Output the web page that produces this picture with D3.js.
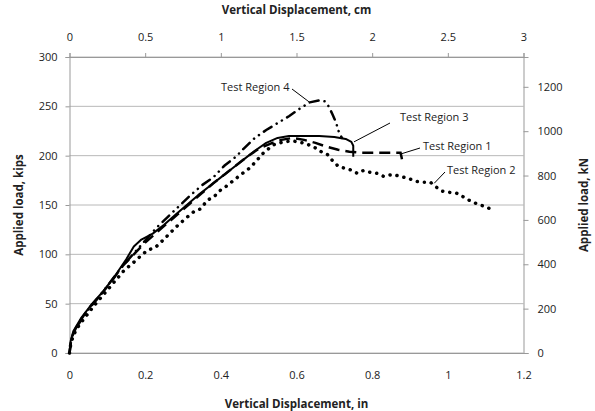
<!DOCTYPE html>
<html>
<head>
<meta charset="utf-8">
<script src="https://cdn.jsdelivr.net/npm/d3@7"></script>
<style>
  body { margin: 0; background: #fff; }
  text { font-family: "Open Sans", "Liberation Sans", sans-serif; fill: #222; }
  .tick text { font-size: 11px; }
  .axis-title { font-size: 11.5px; font-weight: bold; }
  .label { font-size: 11px; }
</style>
</head>
<body>
<div id="chart"></div>
<script>
// displacement (in), load (kips)
const region1 = [[0,0],[0.005,15],[0.02,28],[0.05,45],[0.08,58],[0.11,72],[0.14,88],[0.17,100],[0.2,112],[0.23,122],[0.26,132],[0.29,142],[0.32,152],[0.35,162],[0.38,172],[0.41,181],[0.44,190],[0.47,199],[0.5,207],[0.53,212],[0.56,216],[0.59,218],[0.62,216],[0.65,213],[0.68,209],[0.71,206],[0.74,204],[0.77,203],[0.82,203],[0.875,203],[0.878,198],[0.88,193]];
const region2 = [[0,0],[0.003,8],[0.01,18],[0.025,28],[0.045,38],[0.065,48],[0.085,57],[0.105,66],[0.125,75],[0.145,84],[0.17,92],[0.19,99],[0.206,104],[0.227,107],[0.249,115],[0.267,122],[0.288,130],[0.312,138],[0.328,143],[0.346,146],[0.365,155],[0.381,158],[0.399,165],[0.418,170],[0.434,175],[0.457,182],[0.478,188],[0.497,196],[0.513,203],[0.539,211],[0.566,214],[0.589,215],[0.616,213],[0.632,211],[0.655,207],[0.669,203],[0.682,201],[0.695,195],[0.711,189],[0.73,187],[0.748,185],[0.761,182],[0.777,185],[0.796,183],[0.814,182],[0.83,179],[0.854,181],[0.875,179],[0.896,177],[0.915,174],[0.936,173],[0.954,173],[0.97,168],[0.986,164],[1.0,163],[1.023,162],[1.042,158],[1.06,154],[1.078,151],[1.094,149],[1.113,146]];
const region3 = [[0,0],[0.003,12],[0.01,22],[0.03,35],[0.06,50],[0.09,63],[0.12,78],[0.15,95],[0.17,108],[0.19,115],[0.22,121],[0.25,130],[0.28,140],[0.31,150],[0.34,160],[0.37,169],[0.4,178],[0.43,187],[0.46,196],[0.49,205],[0.52,213],[0.55,218],[0.58,220],[0.62,220],[0.66,220],[0.7,219],[0.73,217],[0.745,214],[0.75,210],[0.75,199]];
const region4 = [[0,0],[0.005,14],[0.02,27],[0.05,44],[0.08,58],[0.11,73],[0.14,88],[0.17,101],[0.2,114],[0.23,127],[0.26,138],[0.29,149],[0.32,160],[0.35,170],[0.38,178],[0.41,190],[0.44,199],[0.46,207],[0.49,218],[0.52,226],[0.55,233],[0.58,240],[0.61,248],[0.635,254],[0.66,256],[0.675,255],[0.685,250],[0.695,242],[0.705,233],[0.712,224],[0.72,218]];

const inTicks = [0, 0.2, 0.4, 0.6, 0.8, 1, 1.2];
const cmTicks = [0, 0.5, 1, 1.5, 2, 2.5, 3];
const kipTicks = [0, 50, 100, 150, 200, 250, 300];
const kNTicks = [0, 200, 400, 600, 800, 1000, 1200];

const W = 595, H = 411;
const m = {left: 69.5, right: 71.5, top: 57, bottom: 58};
const w = W - m.left - m.right, h = H - m.top - m.bottom;

const svg = d3.select("#chart").append("svg")
    .attr("width", W).attr("height", H);
const g = svg.append("g").attr("transform", `translate(${m.left},${m.top})`);

const x = d3.scaleLinear().domain([0, 1.2]).range([0, w]);
const xcm = d3.scaleLinear().domain([0, 3]).range([0, w]);
const y = d3.scaleLinear().domain([0, 300]).range([h, 0]);
const ykN = d3.scaleLinear().domain([0, 300 * 4.448]).range([h, 0]);

// gridlines
g.selectAll(".grid").data(kipTicks).enter().append("line")
    .attr("x1", 0).attr("x2", w)
    .attr("y1", d => y(d)).attr("y2", d => y(d))
    .attr("stroke", "#b8b8b8").attr("stroke-width", 1);

function styleAxis(sel) {
    sel.select(".domain").attr("stroke", "#999");
    sel.selectAll(".tick line").attr("stroke", "#999");
}

g.append("g").attr("transform", `translate(0,${h})`)
    .call(d3.axisBottom(x).tickValues(inTicks).tickSize(0).tickPadding(18).tickFormat(d3.format("")))
    .call(styleAxis);

g.append("g")
    .call(d3.axisTop(xcm).tickValues(cmTicks).tickSize(4).tickPadding(12).tickFormat(d3.format("")))
    .call(styleAxis);

g.append("g")
    .call(d3.axisLeft(y).tickValues(kipTicks).tickSize(4).tickPadding(8))
    .call(styleAxis);

g.append("g").attr("transform", `translate(${w},0)`)
    .call(d3.axisRight(ykN).tickValues(kNTicks).tickSize(5).tickPadding(9).tickFormat(d3.format("d")))
    .call(styleAxis);

svg.selectAll(".tick text").attr("fill", "#222");

const lineLin = d3.line().x(d => x(d[0])).y(d => y(d[1]));

g.append("path").datum(region2).attr("d", lineLin)
    .attr("fill", "none").attr("stroke", "#000").attr("stroke-width", 3.5)
    .attr("stroke-linecap", "round").attr("stroke-dasharray", "0.1 7");
g.append("path").datum(region1).attr("d", lineLin)
    .attr("fill", "none").attr("stroke", "#000").attr("stroke-width", 2.5)
    .attr("stroke-dasharray", "11 6");
g.append("path").datum(region4).attr("d", lineLin)
    .attr("fill", "none").attr("stroke", "#000").attr("stroke-width", 2.5)
    .attr("stroke-linecap", "round").attr("stroke-dasharray", "9 6 0.1 6 0.1 6");
g.append("path").datum(region3).attr("d", lineLin)
    .attr("fill", "none").attr("stroke", "#000").attr("stroke-width", 2)
    .attr("stroke-linejoin", "round");

// labels with leader lines (anchored to data points)
const labels = [
    {text: "Test Region 4", pt: [0.635, 254], lx: 292, ly: 89, tx: 221, ty: 91},
    {text: "Test Region 3", pt: [0.752, 214], lx: 390, ly: 123, tx: 400, ty: 121},
    {text: "Test Region 1", pt: [0.878, 202], lx: 420, ly: 148, tx: 423, ty: 150},
    {text: "Test Region 2", pt: [0.964, 172], lx: 445, ly: 172, tx: 447, ty: 174}
];
labels.forEach(l => {
    svg.append("line")
        .attr("x1", m.left + x(l.pt[0])).attr("y1", m.top + y(l.pt[1]))
        .attr("x2", l.lx).attr("y2", l.ly)
        .attr("stroke", "#000").attr("stroke-width", 1);
    svg.append("text").attr("class", "label")
        .attr("x", l.tx).attr("y", l.ty).text(l.text);
});

// axis titles
svg.append("text").attr("class", "axis-title")
    .attr("x", m.left + w / 2).attr("y", 14).attr("text-anchor", "middle")
    .text("Vertical Displacement, cm");
svg.append("text").attr("class", "axis-title")
    .attr("x", m.left + w / 2).attr("y", 408).attr("text-anchor", "middle")
    .text("Vertical Displacement, in");
svg.append("text").attr("class", "axis-title")
    .attr("transform", `translate(23,${m.top + h / 2}) rotate(-90)`)
    .attr("text-anchor", "middle")
    .text("Applied load, kips");
svg.append("text").attr("class", "axis-title")
    .attr("transform", `translate(588,${m.top + h / 2}) rotate(-90)`)
    .attr("text-anchor", "middle")
    .text("Applied load, kN");
</script>
</body>
</html>
